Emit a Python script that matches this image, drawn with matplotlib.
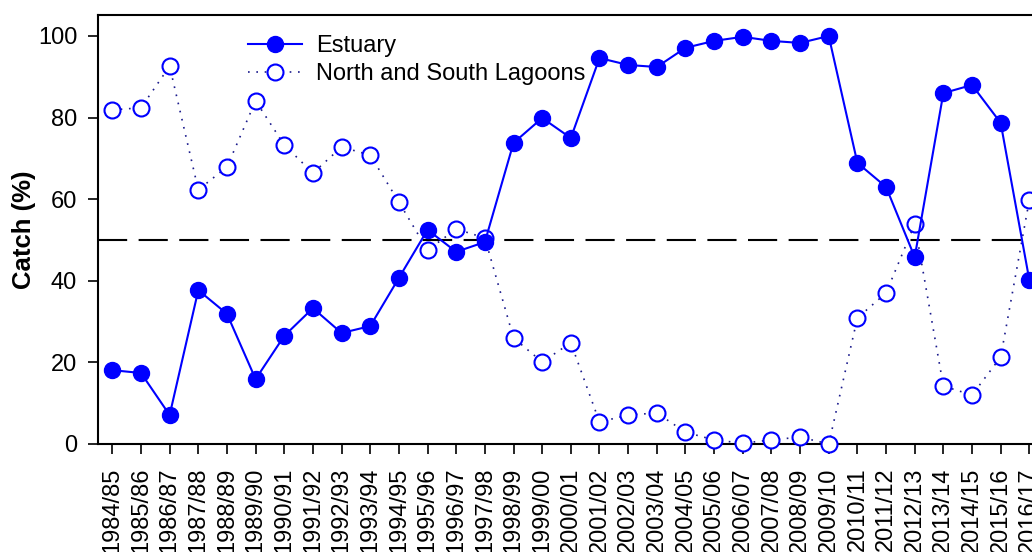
import numpy as np
import matplotlib
matplotlib.use("Agg")
from matplotlib import pyplot as plt

plt.rcParams['font.family'] = ['Liberation Sans', 'DejaVu Sans']

seasons = ["1984/85", "1985/86", "1986/87", "1987/88", "1988/89", "1989/90",
           "1990/91", "1991/92", "1992/93", "1993/94", "1994/95", "1995/96",
           "1996/97", "1997/98", "1998/99", "1999/00", "2000/01", "2001/02",
           "2002/03", "2003/04", "2004/05", "2005/06", "2006/07", "2007/08",
           "2008/09", "2009/10", "2010/11", "2011/12", "2012/13", "2013/14",
           "2014/15", "2015/16", "2016/17"]

estuary = [18.1, 17.4, 7.1, 37.7, 31.9, 15.9, 26.5, 33.3, 27.2, 28.9, 40.7,
           52.5, 47.1, 49.5, 73.8, 79.9, 75.0, 94.6, 92.9, 92.4, 97.1, 98.8,
           99.8, 98.8, 98.3, 100.0, 68.9, 63.0, 45.8, 86.0, 88.0, 78.7, 40.2]

lagoons = [81.9, 82.4, 92.6, 62.3, 67.9, 84.1, 73.3, 66.4, 72.8, 70.8, 59.3,
           47.5, 52.7, 50.5, 26.0, 20.1, 24.8, 5.4, 7.1, 7.6, 2.9, 1.0,
           0.2, 1.0, 1.7, 0.0, 30.9, 37.0, 53.9, 14.2, 12.0, 21.3, 59.8]

W, H = 1032, 552
fig = plt.figure(figsize=(W / 100, H / 100), dpi=100)

# axes runs past the right edge, like the cropped original
px_per_unit = (1029 - 112) / 32.0
left, right = 98, 98 + 33 * px_per_unit
top, bottom = 15, 444
ax = fig.add_axes([left / W, (H - bottom) / H, (right - left) / W, (bottom - top) / H])

x = np.arange(len(seasons))

ax.axhline(50, color='black', lw=1.5, dashes=(14, 5.5), zorder=1)

ax.plot(x, lagoons, linestyle=(0, (1, 4)), color='#1a1a8c', lw=1.2,
        marker='o', markersize=11.5, markerfacecolor='white',
        markeredgecolor='#0000ff', markeredgewidth=1.5,
        label='North and South Lagoons', clip_on=False, zorder=3)
ax.plot(x, estuary, '-', color='#0000ff', lw=1.5,
        marker='o', markersize=11.5, markerfacecolor='#0000ff',
        markeredgecolor='#0000ff', label='Estuary', clip_on=False, zorder=4)

ax.set_xlim(-0.5, 32.5)
ax.set_ylim(0, (bottom - top) / 4.08)
ax.set_xticks(x)
ax.set_xticklabels(seasons, rotation=90, fontsize=17)
ax.set_yticks([0, 20, 40, 60, 80, 100])
ax.tick_params(axis='y', labelsize=17, pad=8)
ax.tick_params(axis='x', pad=10)
ax.tick_params(direction='out', length=7, width=1.2)

for s in ax.spines.values():
    s.set_linewidth(1.5)

ax.set_ylabel('Catch (%)', fontsize=18.5, fontweight='bold', labelpad=1)

handles, labels = ax.get_legend_handles_labels()
ax.legend(handles[::-1], labels[::-1], loc='upper left',
          bbox_to_anchor=(248 / W, 1 - 35 / H), bbox_transform=fig.transFigure,
          frameon=False, fontsize=17, handlelength=2.3, handletextpad=0.6,
          labelspacing=0.25, borderaxespad=0, borderpad=0)

fig.savefig('out.png', dpi=100)
